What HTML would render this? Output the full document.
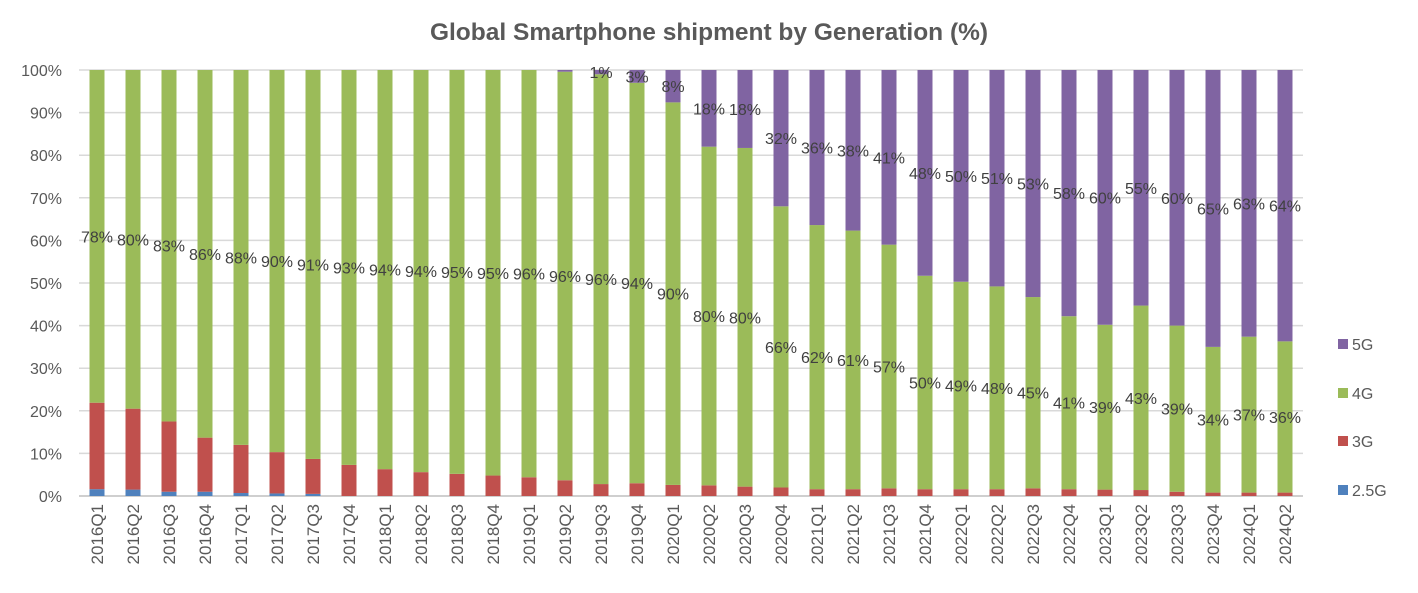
<!DOCTYPE html>
<html><head><meta charset="utf-8"><style>
body{margin:0;background:#fff;}
svg text{font-family:"Liberation Sans",Arial,sans-serif;}
</style></head><body>
<svg id="chart" width="1418" height="588" xmlns="http://www.w3.org/2000/svg">
<text x="709" y="40" text-anchor="middle" font-size="24.5" font-weight="bold" fill="#595959">Global Smartphone shipment by Generation (%)</text>
<g id="grid"></g><g id="bars"></g><g id="labels"></g><g id="axes"></g>
<g id="legend"></g>
</svg>
<script>
const categories=["2016Q1","2016Q2","2016Q3","2016Q4","2017Q1","2017Q2","2017Q3","2017Q4","2018Q1","2018Q2","2018Q3","2018Q4","2019Q1","2019Q2","2019Q3","2019Q4","2020Q1","2020Q2","2020Q3","2020Q4","2021Q1","2021Q2","2021Q3","2021Q4","2022Q1","2022Q2","2022Q3","2022Q4","2023Q1","2023Q2","2023Q3","2023Q4","2024Q1","2024Q2"];
const g25=[1.6,1.5,1.0,1.0,0.7,0.6,0.5,0,0,0,0,0,0,0,0,0,0,0,0,0,0,0,0,0,0,0,0,0,0,0,0,0,0,0];
const g3=[20.3,19.0,16.5,12.7,11.3,9.7,8.2,7.3,6.3,5.6,5.2,4.8,4.4,3.7,2.8,3.0,2.6,2.5,2.2,2.0,1.6,1.6,1.8,1.6,1.6,1.6,1.8,1.6,1.5,1.4,1.0,0.8,0.8,0.8];
const g5=[0,0,0,0,0,0,0,0,0,0,0,0,0,0.4,1.0,3.0,7.6,18.0,18.3,32.0,36.4,37.7,41.0,48.3,49.7,50.8,53.3,57.8,59.8,55.3,60.0,65.0,62.6,63.7];
const g4=categories.map((c,i)=>100-g25[i]-g3[i]-g5[i]);
const yTicks=[0,10,20,30,40,50,60,70,80,90,100];
const NS="http://www.w3.org/2000/svg";
const x0=79,step=36,bw=15;
const xC=i=>x0+step*(i+0.5);
const yS=v=>496-v*4.26;
function mk(p,tag,at){const e=document.createElementNS(NS,tag);for(const k in at)e.setAttribute(k,at[k]);document.getElementById(p).appendChild(e);return e;}
yTicks.forEach(t=>{
 const l=mk('grid','line',{x1:79,x2:1303,y1:yS(t),y2:yS(t),stroke:t==0?'#bfbfbf':'#d9d9d9','stroke-width':1.5});
 
 
 const tx=mk('axes','text',{x:62,y:yS(t)+6,'text-anchor':'end','font-size':16,fill:'#595959'});
 tx.textContent=t+'%';
 
 
});
const series=[[g25,'#4f81bd','2.5G'],[g3,'#c0504d','3G'],[g4,'#9bbb59','4G'],[g5,'#8064a2','5G']];
categories.forEach((c,i)=>{
 let base=0;
 series.forEach(([arr,col,nm])=>{
  const v=arr[i];
  if(v>0){
   const r=mk('bars','rect',{x:xC(i)-bw/2,y:yS(base+v),width:bw,height:v*4.26,fill:col});
   
   
   if((nm=='4G'||nm=='5G')&&Math.round(v)>=1){
    const t=mk('labels','text',{x:xC(i),y:yS(base+v/2)+6,'text-anchor':'middle','font-size':16,fill:'#404040'});
    t.textContent=Math.round(v)+'%';
    
    
   }
  }
  base+=v;
 });
 const tx=mk('axes','text',{x:0,y:0,'text-anchor':'end','font-size':17,fill:'#595959',transform:`translate(${xC(i)+6},504) rotate(-90)`});
 tx.textContent=c;
 
 
});
const leg=[['5G','#8064a2',345],['4G','#9bbb59',394],['3G','#c0504d',442],['2.5G','#4f81bd',491]];
leg.forEach(([n,c,y])=>{
 const r=mk('legend','rect',{x:1338,y:y-6,width:10,height:10,fill:c});
 
 
 const t=mk('legend','text',{x:1352,y:y+5,'font-size':16,fill:'#595959'});
 t.textContent=n;
 
 
});
</script>
</body></html>
